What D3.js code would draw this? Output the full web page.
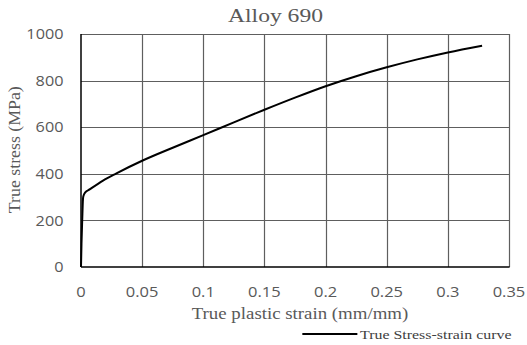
<!DOCTYPE html>
<html><head><meta charset="utf-8">
<script src="https://cdn.jsdelivr.net/npm/d3@7"></script>
<style>html,body{margin:0;padding:0;background:#fff;}</style>
</head><body>
<svg id="c" width="527" height="345"></svg>
<script>
const titleText = "Alloy 690";
const xTitle = "True plastic strain (mm/mm)";
const yTitle = "True stress (MPa)";
const seriesName = "True Stress-strain curve";
const xTicks = [0, 0.05, 0.1, 0.15, 0.2, 0.25, 0.3, 0.35];
const xTickLabels = ["0", "0.05", "0.1", "0.15", "0.2", "0.25", "0.3", "0.35"];
const yTicks = [0, 200, 400, 600, 800, 1000];
const strain = [0, 0.0004, 0.001, 0.0016, 0.002, 0.0033, 0.0074, 0.018, 0.029, 0.05, 0.075, 0.1, 0.125, 0.15, 0.175, 0.2, 0.225, 0.25, 0.275, 0.3, 0.328];
const stress = [0, 100, 202, 290, 305, 319, 334, 371, 402, 456, 512, 566, 621, 675, 727, 776, 819, 857, 891, 921, 950];

const svg = d3.select("#c");
const L = 81, R = 509, T = 34, B = 267;
const x = d3.scaleLinear().domain([0, 0.35]).range([L, R]);
const y = d3.scaleLinear().domain([0, 1000]).range([B, T]);
const grey = "#595959";
const serif = "'Liberation Serif', 'Times New Roman', serif";
const sans = "'Open Sans', sans-serif";

function stretch(sel, k) {
  sel.each(function() {
    const w = this.getComputedTextLength();
    d3.select(this).attr("textLength", w * k).attr("lengthAdjust", "spacingAndGlyphs");
  });
}

// grid
const g = svg.append("g");
g.selectAll("line.v").data(xTicks.slice(1)).join("line")
  .attr("x1", d => Math.round(x(d)) + 0.5).attr("x2", d => Math.round(x(d)) + 0.5)
  .attr("y1", T).attr("y2", B).attr("stroke", "#5e5e5e").attr("stroke-width", 1.2);
g.selectAll("line.h").data(yTicks.slice(1)).join("line")
  .attr("y1", d => Math.round(y(d)) + 0.5).attr("y2", d => Math.round(y(d)) + 0.5)
  .attr("x1", L).attr("x2", R).attr("stroke", "#5e5e5e").attr("stroke-width", 1.2);
// axes lines
svg.append("line").attr("x1", L).attr("x2", R + 0.6).attr("y1", B).attr("y2", B).attr("stroke", "#000").attr("stroke-width", 1.5);
svg.append("line").attr("x1", L).attr("x2", L).attr("y1", T).attr("y2", B).attr("stroke", "#000").attr("stroke-width", 1.5);

// tick labels
const xl = svg.append("g").selectAll("text").data(xTicks).join("text")
  .attr("x", d => x(d)).attr("y", 296.5).attr("text-anchor", "middle")
  .attr("font-family", sans).attr("font-size", 15).attr("fill", grey)
  .text((d, i) => xTickLabels[i]);
stretch(xl, 1.1);
const yl = svg.append("g").selectAll("text").data(yTicks).join("text")
  .attr("x", 63.5).attr("y", d => y(d) + 5.2).attr("text-anchor", "end")
  .attr("font-family", sans).attr("font-size", 14.5).attr("fill", grey)
  .text(d => d);
stretch(yl, 1.12);

// curve
const pts = strain.map((s, i) => [s, stress[i]]);
svg.append("path").datum(pts)
  .attr("d", d3.line().x(d => x(d[0])).y(d => y(d[1])).curve(d3.curveMonotoneX))
  .attr("fill", "none").attr("stroke", "#000").attr("stroke-width", 2);

// titles
const t = svg.append("text").attr("x", 275.5).attr("y", 22).attr("text-anchor", "middle")
  .attr("font-family", serif).attr("font-size", 18).attr("fill", grey).text(titleText);
stretch(t, 95 / t.node().getComputedTextLength());
const xt = svg.append("text").attr("x", 300).attr("y", 318.5).attr("text-anchor", "middle")
  .attr("font-family", serif).attr("font-size", 17.5).attr("fill", grey).text(xTitle);
stretch(xt, 216.5 / xt.node().getComputedTextLength());
const yt = svg.append("text").attr("transform", "translate(19.5,149.7) rotate(-90)").attr("text-anchor", "middle")
  .attr("font-family", serif).attr("font-size", 17.5).attr("fill", grey).text(yTitle);
stretch(yt, 127 / yt.node().getComputedTextLength());

// legend
svg.append("line").attr("x1", x(0.181)).attr("x2", x(0.226)).attr("y1", 334).attr("y2", 334)
  .attr("stroke", "#000").attr("stroke-width", 2);
const lt = svg.append("text").attr("x", 360).attr("y", 339).attr("font-family", serif)
  .attr("font-size", 13.5).attr("fill", "#404040").text(seriesName);
stretch(lt, 151.5 / lt.node().getComputedTextLength());
</script>
</body></html>
